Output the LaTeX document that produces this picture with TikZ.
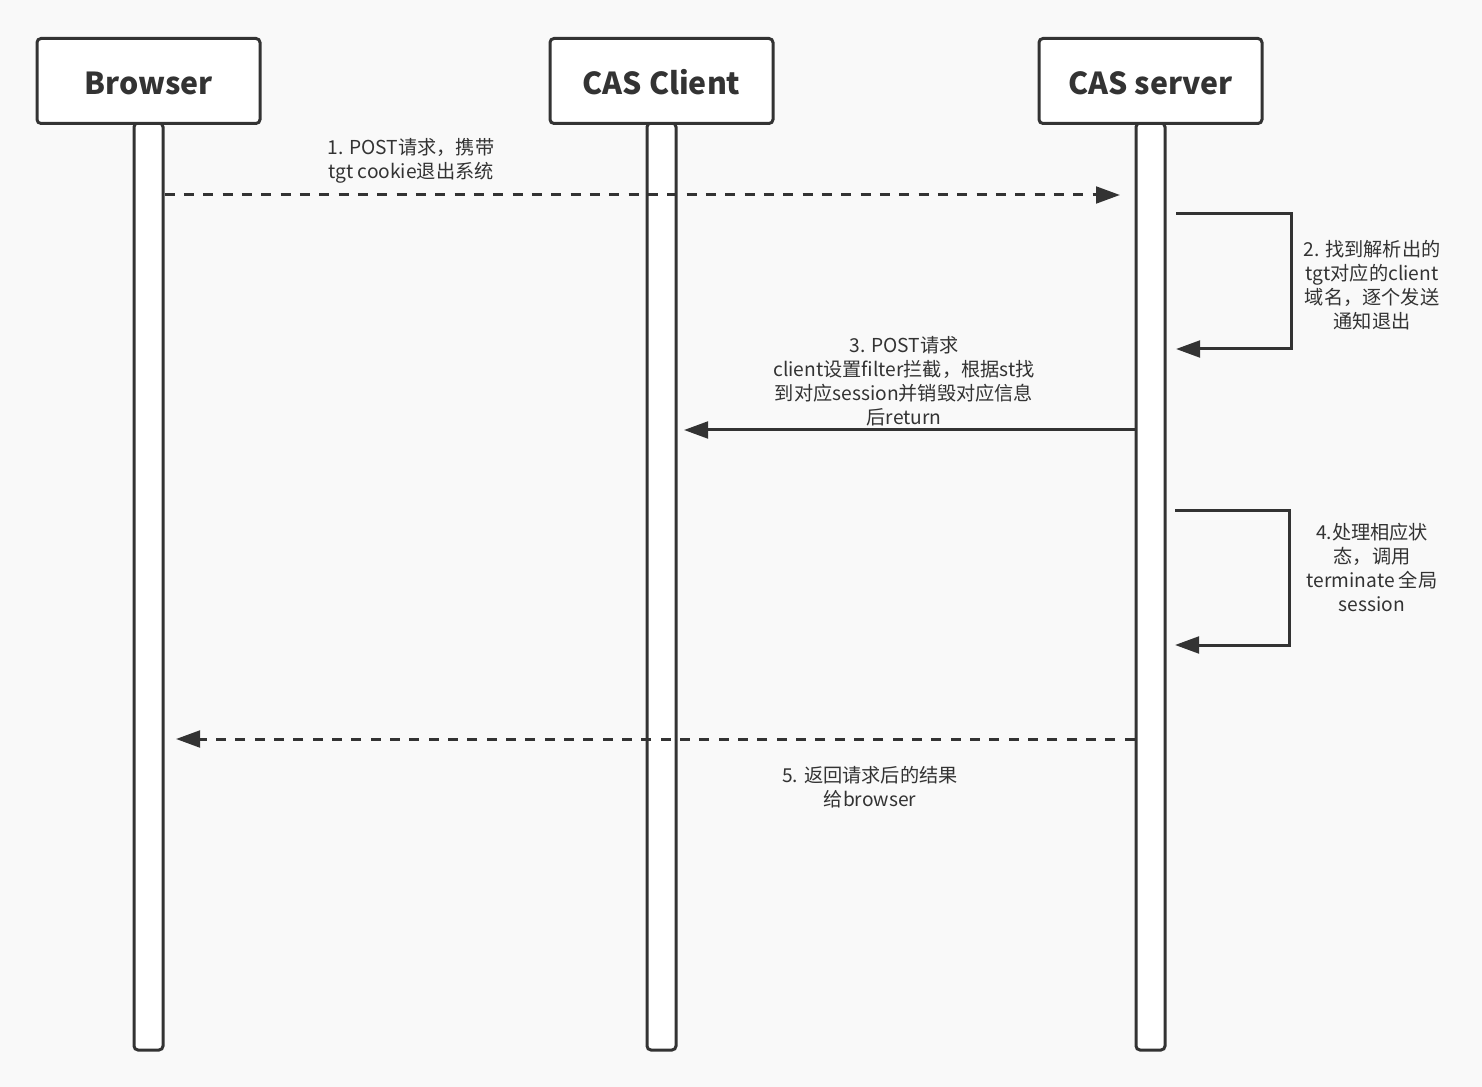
\documentclass[tikz,border=0pt]{standalone}
\usepackage{fontspec}
\setmainfont{Noto Sans CJK SC}
\usetikzlibrary{arrows.meta}
\definecolor{ink}{HTML}{333333}
\definecolor{bg}{HTML}{F9F9F9}
\begin{document}
\begin{tikzpicture}[x=0.75pt,y=-0.75pt,
  actor/.style={draw=ink, line width=2.25pt, fill=white, rounded corners=3pt,
    minimum width=167.25pt, minimum height=63.75pt, inner sep=0pt,
    text height=20.4pt, text depth=0pt,
    text=ink, font=\fontsize{22.7}{28}\selectfont\bfseries},
  bar/.style={draw=ink, line width=2.25pt, fill=white, rounded corners=3pt,
    minimum width=21.75pt, minimum height=695.25pt, inner sep=0pt},
  msg/.style={draw=ink, line width=2.25pt, -{Triangle[length=18pt,width=12.5pt]}},
  dmsg/.style={msg, dash pattern=on 7.5pt off 7pt},
  lbl/.style={text=ink, align=center, inner sep=0pt,
    font=\fontsize{14.4}{18}\selectfont}
]
\fill[bg] (0,0) rectangle (1482,1087);
\useasboundingbox (0,0) rectangle (1482,1087);

% lifelines
\node[bar] (bB) at (148.5,586.5) {};
\node[bar] (bC) at (661.5,586.5) {};
\node[bar] (bS) at (1150.5,586.5) {};

% actors
\node[actor] (aB) at (148.5,81) {Browser};
\node[actor] (aC) at (661.5,81) {CAS Client};
\node[actor] (aS) at (1150.5,81) {CAS server};

% message 1
\coordinate (m1e) at (1120,195);
\draw[dmsg] (bB.east |- m1e) -- (m1e);
\node[lbl] (l1) at (411,160.5) {1. POST请求，携带\\tgt cookie退出系统};

% message 2 (self)
\coordinate (m2s) at (1176,214);
\coordinate (m2c) at (1291,214);
\coordinate (m2e) at (1176,349);
\draw[msg] (m2s) -- (m2c) |- (m2e);
\node[lbl] (l2) at (1372,285.5) {2. 找到解析出的\\tgt对应的client\\域名，逐个发送\\通知退出};

% message 3
\coordinate (m3e) at (684,430);
\draw[msg] (bS.west |- m3e) -- (m3e);
\node[lbl] (l3) at (904,381.5) {3. POST请求\\client设置filter拦截，根据st找\\到对应session并销毁对应信息\\后return};

% message 4 (self)
\coordinate (m4s) at (1175,510);
\coordinate (m4c) at (1289,510);
\coordinate (m4e) at (1175,645);
\draw[msg] (m4s) -- (m4c) |- (m4e);
\node[lbl] (l4) at (1372,567.5) {4.处理相应状\\态，调用\\terminate 全局\\session};

% message 5
\coordinate (m5e) at (176,739);
\draw[dmsg] (bS.west |- m5e) -- (m5e);
\node[lbl] (l5) at (870,787.5) {5. 返回请求后的结果\\给browser};
\end{tikzpicture}
\end{document}
